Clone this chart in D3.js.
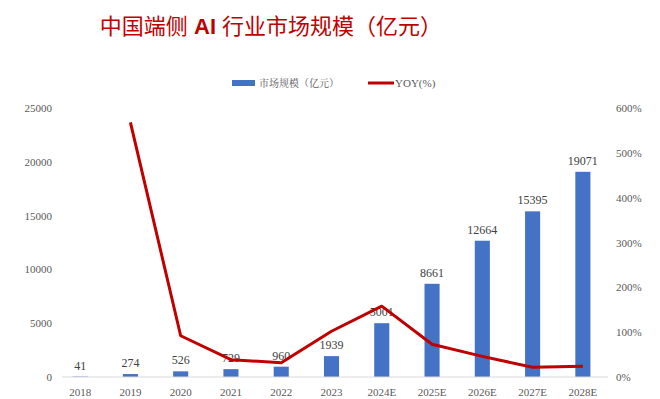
<!DOCTYPE html>
<html lang="zh">
  <head>
    <meta charset="utf-8" />
    <title>中国端侧AI行业市场规模</title>
    <script src="https://d3js.org/d3.v7.min.js"></script>
    <style>
      body { margin: 0; background: #fff; }
      svg text { font-family: "Liberation Serif", "Noto Serif CJK SC", "Noto Sans CJK SC", serif; }
    </style>
  </head>
  <body>
    <div id="chart"></div>
    <script>
      // data
      const years = ["2018", "2019", "2020", "2021", "2022", "2023", "2024E", "2025E", "2026E", "2027E", "2028E"];
      const market = [41, 274, 526, 729, 960, 1939, 5001, 8661, 12664, 15395, 19071];
      const yoy = [null, 5.68, 0.92, 0.386, 0.317, 1.02, 1.58, 0.73, 0.46, 0.216, 0.239];
      const leftTicks = [0, 5000, 10000, 15000, 20000, 25000];
      const rightTicks = [0, 1, 2, 3, 4, 5, 6];

      const W = 660, H = 399;
      const x0 = 55, x1 = 608, yBase = 377, yTop = 108;

      const svg = d3.select("#chart").append("svg")
        .attr("width", W).attr("height", H);

      // title
      svg.append("text")
        .attr("x", 271).attr("y", 34)
        .attr("text-anchor", "middle")
        .attr("fill", "#C00000")
        .style("font-family", '"Noto Sans CJK SC", sans-serif')
        .style("font-size", "22px")
        .style("font-weight", "400")
        .text("中国端侧")
        .append("tspan").style("font-weight", "bold").style("font-family", '"Liberation Sans", Arial, sans-serif').text(" AI ")
        .append("tspan").style("font-weight", "400").style("font-family", '"Noto Sans CJK SC", sans-serif').text("行业市场规模（亿元）");

      const x = d3.scaleBand().domain(years).range([x0, x1]).paddingInner(0.7).paddingOuter(0.35);
      const y = d3.scaleLinear().domain([0, 25000]).range([yBase, yTop]);
      const y2 = d3.scaleLinear().domain([0, 6]).range([yBase, yTop]);

      // left axis labels
      svg.append("g").selectAll("text").data(leftTicks).join("text")
        .attr("x", 52).attr("y", d => y(d) + 4)
        .attr("text-anchor", "end")
        .attr("fill", "#595959").style("font-size", "11px")
        .text(d => d);

      // right axis labels
      svg.append("g").selectAll("text").data(rightTicks).join("text")
        .attr("x", 616).attr("y", d => y2(d) + 4)
        .attr("fill", "#595959").style("font-size", "11px")
        .text(d => d3.format(".0%")(d));

      // bars
      svg.append("g").selectAll("rect").data(market).join("rect")
        .attr("x", (d, i) => x(years[i]))
        .attr("y", d => y(d))
        .attr("width", x.bandwidth())
        .attr("height", d => yBase - y(d))
        .attr("fill", "#4472C4");

      // baseline
      svg.append("line")
        .attr("x1", 62).attr("x2", x1).attr("y1", yBase).attr("y2", yBase)
        .attr("stroke", "#D9D9D9").attr("stroke-width", 1);

      // x labels
      svg.append("g").selectAll("text").data(years).join("text")
        .attr("x", d => x(d) + x.bandwidth() / 2).attr("y", 396)
        .attr("text-anchor", "middle")
        .attr("fill", "#595959").style("font-size", "11px")
        .text(d => d);

      // value labels
      svg.append("g").selectAll("text").data(market).join("text")
        .attr("x", (d, i) => x(years[i]) + x.bandwidth() / 2)
        .attr("y", d => y(d) - 7)
        .attr("text-anchor", "middle")
        .attr("fill", "#404040").style("font-size", "12px")
        .text(d => d);

      // yoy line
      const pts = yoy.map((v, i) => ({ k: years[i], v })).filter(d => d.v !== null);
      svg.append("path").datum(pts)
        .attr("d", d3.line().x(d => x(d.k) + x.bandwidth() / 2).y(d => y2(d.v)))
        .attr("fill", "none").attr("stroke", "#C00000")
        .attr("stroke-width", 3).attr("stroke-linejoin", "round");

      // legend
      const lg = svg.append("g");
      lg.append("rect").attr("x", 232).attr("y", 80).attr("width", 23).attr("height", 6).attr("fill", "#4472C4");
      lg.append("text").attr("x", 259).attr("y", 87)
        .attr("fill", "#595959").style("font-size", "10px")
        .style("font-family", '"Noto Serif CJK SC", "Noto Sans CJK SC", serif')
        .text("市场规模（亿元）");
      lg.append("line").attr("x1", 368).attr("x2", 394).attr("y1", 83).attr("y2", 83)
        .attr("stroke", "#C00000").attr("stroke-width", 3);
      lg.append("text").attr("x", 395).attr("y", 87)
        .attr("fill", "#595959").style("font-size", "11px")
        .text("YOY(%)");
    </script>
  </body>
</html>
